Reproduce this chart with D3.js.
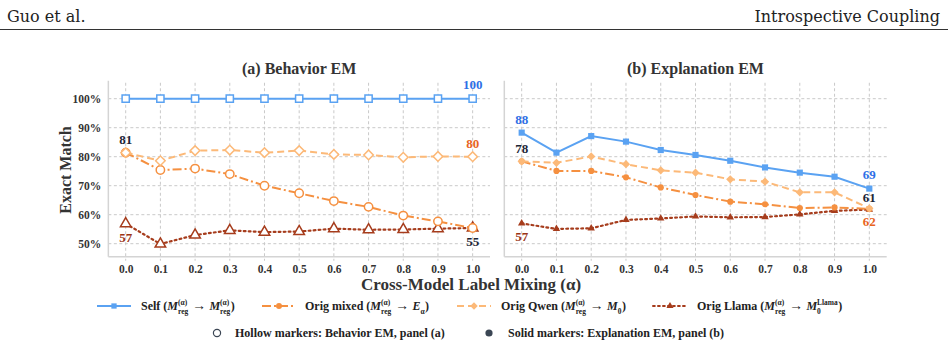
<!DOCTYPE html>
<html>
<head>
<meta charset="utf-8">
<script src="https://cdn.jsdelivr.net/npm/d3@7"></script>
<style>
    body { margin: 0; background: #fff; }
    svg text { font-family: "Liberation Serif", "DejaVu Serif", serif; white-space: pre; }
</style>
</head>
<body>
<svg id="chart" width="948" height="346"></svg>
<script>

// alpha on x axis
var alphas = [ 0, 0.1, 0.2, 0.3, 0.4, 0.5, 0.6, 0.7, 0.8, 0.9, 1.0 ];
var yTicks = [ 50, 60, 70, 80, 90, 100 ];

// (a) Behavior EM
var behaviorSelf  = [ 100, 100, 100, 100, 100, 100, 100, 100, 100, 100, 100 ];
var behaviorMixed = [ 81.4, 75.4, 75.9, 74.0, 70.0, 67.4, 64.7, 62.7, 59.7, 57.7, 55.4 ];
var behaviorQwen  = [ 81.4, 78.6, 82.1, 82.3, 81.4, 82.1, 80.8, 80.6, 79.8, 80.1, 80.0 ];
var behaviorLlama = [ 56.9, 49.9, 53.0, 54.6, 54.0, 54.2, 55.2, 54.8, 54.9, 55.2, 55.4 ];

// (b) Explanation EM
var explSelf  = [ 88.3, 81.4, 87.1, 85.2, 82.3, 80.6, 78.6, 76.3, 74.5, 73.1, 69.0 ];
var explMixed = [ 78.4, 75.1, 75.1, 72.9, 69.4, 66.8, 64.5, 63.6, 62.3, 62.5, 62.0 ];
var explQwen  = [ 78.4, 77.9, 80.1, 77.4, 75.3, 74.5, 72.2, 71.4, 67.7, 67.7, 62.2 ];
var explLlama = [ 57.0, 55.1, 55.3, 58.2, 58.7, 59.4, 59.1, 59.2, 60.1, 61.3, 61.8 ];

var panelTitles = [ '(a) Behavior EM', '(b) Explanation EM' ];

// value labels: series, point index, text
var behaviorLabels = [
    { series: 'self',  i: 10, text: '100' },
    { series: 'qwen',  i: 0,  text: '81' },
    { series: 'qwen',  i: 10, text: '80' },
    { series: 'mixed', i: 10, text: '55' },
    { series: 'llama', i: 0,  text: '57' }
];
var explLabels = [
    { series: 'self',  i: 0,  text: '88' },
    { series: 'self',  i: 10, text: '69' },
    { series: 'qwen',  i: 0,  text: '78' },
    { series: 'llama', i: 0,  text: '57' },
    { series: 'llama', i: 10, text: '61' },
    { series: 'mixed', i: 10, text: '62' }
];

var styles = {
    self:  { color: '#5aa2f2', dash: null,         symbol: d3.symbolSquare,   rot: 0 },
    mixed: { color: '#f59040', dash: '9,3,2,3',    symbol: d3.symbolCircle,   rot: 0 },
    qwen:  { color: '#fcb978', dash: '7,4',        symbol: d3.symbolSquare,   rot: 45 },
    llama: { color: '#a63c1c', dash: '1.8,3.2',    symbol: d3.symbolTriangle, rot: 0 }
};

var labelStyle = {
    'behavior-self-10':  { dy: -10, color: '#2e6fe6' },
    'behavior-qwen-0':   { dy: -9,  color: '#1c2536' },
    'behavior-qwen-10':  { dy: -9,  color: '#e8641e' },
    'behavior-mixed-10': { dy: 18,  color: '#1c2536' },
    'behavior-llama-0':  { dy: 18,  color: '#9a3416' },
    'expl-self-0':       { dy: -9,  color: '#2e6fe6' },
    'expl-self-10':      { dy: -10, color: '#2e6fe6' },
    'expl-qwen-0':       { dy: -8,  color: '#1c2536' },
    'expl-llama-0':      { dy: 18,  color: '#9a3416' },
    'expl-llama-10':     { dy: -7,  color: '#1c2536' },
    'expl-mixed-10':     { dy: 17,  color: '#e8641e' }
};

var svg = d3.select('#chart');

// page header
svg.append('text')
    .attr('x', 7).attr('y', 22)
    .style('font-family', '"DejaVu Serif", serif')
    .style('font-size', '16px')
    .style('fill', '#222')
    .text('Guo et al.');

svg.append('text')
    .attr('x', 940).attr('y', 22)
    .attr('text-anchor', 'end')
    .style('font-family', '"DejaVu Serif", serif')
    .style('font-size', '16px')
    .style('fill', '#222')
    .text('Introspective Coupling');

svg.append('line')
    .attr('x1', 0).attr('x2', 948)
    .attr('y1', 29.5).attr('y2', 29.5)
    .style('stroke', '#333')
    .style('stroke-width', 1);

var plotTop = 82.75, plotBottom = 256.75;

var y = d3.scaleLinear()
    .domain([ 45.5, 105.5 ])
    .range([ plotBottom, plotTop ]);

var panels = [
    { key: 'behavior', left: 108.35, right: 490, hollow: true,
      data: { self: behaviorSelf, mixed: behaviorMixed, qwen: behaviorQwen, llama: behaviorLlama },
      labels: behaviorLabels },
    { key: 'expl', left: 504.3, right: 886.7, hollow: false,
      data: { self: explSelf, mixed: explMixed, qwen: explQwen, llama: explLlama },
      labels: explLabels }
];

var order = [ 'llama', 'mixed', 'qwen', 'self' ];

panels.forEach( function ( p, pi ) {

    var x = d3.scaleLinear()
        .domain([ -0.05, 1.05 ])
        .range([ p.left, p.right ]);

    var g = svg.append('g');

    // grid
    g.selectAll('.vgrid')
        .data( alphas )
        .enter().append('line')
        .attr('x1', function ( d ) { return x( d ) })
        .attr('x2', function ( d ) { return x( d ) })
        .attr('y1', plotTop)
        .attr('y2', plotBottom + 4)
        .style('stroke', '#c9c9c9')
        .style('stroke-width', 1)
        .style('stroke-dasharray', '3,2.5');

    g.selectAll('.hgrid')
        .data( yTicks )
        .enter().append('line')
        .attr('x1', p.left)
        .attr('x2', p.right)
        .attr('y1', function ( d ) { return y( d ) })
        .attr('y2', function ( d ) { return y( d ) })
        .style('stroke', '#c9c9c9')
        .style('stroke-width', 1)
        .style('stroke-dasharray', '3,2.5');

    // spines
    g.append('line')
        .attr('x1', p.left).attr('x2', p.left)
        .attr('y1', plotTop - 2).attr('y2', plotBottom)
        .style('stroke', '#d4d4d4')
        .style('stroke-width', 1.5);

    g.append('line')
        .attr('x1', p.left).attr('x2', p.right)
        .attr('y1', plotBottom).attr('y2', plotBottom)
        .style('stroke', '#d4d4d4')
        .style('stroke-width', 1.5);

    // tick labels
    var xAxis = d3.axisBottom( x )
        .tickValues( alphas )
        .tickSize( 0 )
        .tickPadding( 8 )
        .tickFormat( d3.format('.1f') );

    var xa = g.append('g')
        .attr('transform', 'translate(0,' + plotBottom + ')')
        .call( xAxis );
    xa.select('.domain').remove();
    xa.selectAll('text')
        .style('font-family', '"Liberation Serif", serif')
        .style('font-weight', 'bold')
        .style('font-size', '11.5px')
        .style('fill', '#333');

    if ( pi === 0 ) {

        var yAxis = d3.axisLeft( y )
            .tickValues( yTicks )
            .tickSize( 0 )
            .tickPadding( 7 )
            .tickFormat( function ( d ) { return d + '%' });

        var ya = g.append('g')
            .attr('transform', 'translate(' + p.left + ',0)')
            .call( yAxis );
        ya.select('.domain').remove();
        ya.selectAll('text')
            .style('font-family', '"Liberation Serif", serif')
            .style('font-weight', 'bold')
            .style('font-size', '11.5px')
            .style('fill', '#333');

    }

    // title
    g.append('text')
        .attr('x', ( p.left + p.right ) / 2)
        .attr('y', 74)
        .attr('text-anchor', 'middle')
        .style('font-weight', 'bold')
        .style('font-size', '16px')
        .style('fill', '#333')
        .text( panelTitles[ pi ] );

    // series
    order.forEach( function ( key ) {

        var st = styles[ key ];
        var vals = p.data[ key ];

        var line = d3.line()
            .x( function ( d, i ) { return x( alphas[ i ] ) })
            .y( function ( d ) { return y( d ) });

        g.append('path')
            .datum( vals )
            .attr('d', line)
            .style('fill', 'none')
            .style('stroke', st.color)
            .style('stroke-width', key === 'llama' ? 2.2 : 2)
            .style('stroke-dasharray', st.dash)
            .style('stroke-linecap', key === 'llama' ? 'round' : 'butt');

        var size;
        if ( p.hollow ) {
            size = { self: 52, mixed: 55, qwen: 46, llama: 48 }[ key ];
        } else {
            size = { self: 38, mixed: 30, qwen: 34, llama: 24 }[ key ];
        }

        var sym = d3.symbol().type( st.symbol ).size( size );

        g.selectAll('.m-' + key)
            .data( vals )
            .enter().append('path')
            .attr('d', sym)
            .attr('transform', function ( d, i ) {
                return 'translate(' + x( alphas[ i ] ) + ',' + y( d ) + ') rotate(' + st.rot + ')';
            })
            .style('fill', p.hollow ? '#fff' : st.color)
            .style('stroke', st.color)
            .style('stroke-width', p.hollow ? 1.5 : 0);

    });

    // value labels
    p.labels.forEach( function ( l ) {

        var ls = labelStyle[ p.key + '-' + l.series + '-' + l.i ];

        g.append('text')
            .attr('x', x( alphas[ l.i ] ))
            .attr('y', y( p.data[ l.series ][ l.i ] ) + ls.dy)
            .attr('text-anchor', 'middle')
            .style('font-weight', 'bold')
            .style('font-size', '13px')
            .style('fill', ls.color)
            .text( l.text );

    });

});

// axis titles
svg.append('text')
    .attr('transform', 'translate(71,170) rotate(-90)')
    .attr('text-anchor', 'middle')
    .style('font-weight', 'bold')
    .style('font-size', '16px')
    .style('fill', '#333')
    .text('Exact Match');

svg.append('text')
    .attr('x', 471)
    .attr('y', 290)
    .attr('text-anchor', 'middle')
    .style('font-weight', 'bold')
    .style('font-size', '17px')
    .style('fill', '#333')
    .text('Cross-Model Label Mixing (α)');

// legend

function richText ( g, x, y, parts, size ) {

    var cx = x;

    parts.forEach( function ( part ) {

        if ( part.sup || part.sub ) {

            var w = 0;

            if ( part.sup ) {
                var s = g.append('text')
                    .attr('x', cx).attr('y', y - size * 0.42)
                    .style('font-size', ( size * 0.62 ) + 'px')
                    .style('font-weight', 'bold')
                    .style('fill', '#222')
                    .text( part.sup );
                w = Math.max( w, s.node().getComputedTextLength() );
            }

            if ( part.sub ) {
                var b = g.append('text')
                    .attr('x', cx).attr('y', y + size * 0.32)
                    .style('font-size', ( size * 0.62 ) + 'px')
                    .style('font-weight', 'bold')
                    .style('fill', '#222')
                    .text( part.sub );
                w = Math.max( w, b.node().getComputedTextLength() );
            }

            cx += w + 0.5;

        } else {

            var t = g.append('text')
                .attr('x', cx).attr('y', y)
                .style('font-size', ( part.big ? size * 1.15 : size ) + 'px')
                .style('font-weight', part.big ? 'normal' : 'bold')
                .style('font-style', part.it ? 'italic' : 'normal')
                .style('fill', '#222')
                .text( part.t );
            cx += t.node().getComputedTextLength();

        }

    });

}

var Mreg = [ { t: 'M', it: true }, { sup: '(α)', sub: 'reg' } ];
var arrow = [ { t: ' → ', big: true } ];

var legendItems = [
    { key: 'self',  x: 97,  tx: 141,
      parts: [ { t: 'Self (' } ].concat( Mreg, arrow, Mreg, [ { t: ')' } ] ) },
    { key: 'mixed', x: 262, tx: 305,
      parts: [ { t: 'Orig mixed (' } ].concat( Mreg, arrow, [ { t: 'E', it: true }, { sub: 'α' }, { t: ')' } ] ) },
    { key: 'qwen',  x: 457, tx: 501,
      parts: [ { t: 'Orig Qwen (' } ].concat( Mreg, arrow, [ { t: 'M', it: true }, { sub: '0' }, { t: ')' } ] ) },
    { key: 'llama', x: 653, tx: 697,
      parts: [ { t: 'Orig Llama (' } ].concat( Mreg, arrow, [ { t: 'M', it: true }, { sup: 'Llama', sub: '0' }, { t: ')' } ] ) }
];

var lg = svg.append('g');
var ly = 306;

legendItems.forEach( function ( item ) {

    var st = styles[ item.key ];

    lg.append('line')
        .attr('x1', item.x).attr('x2', item.x + 34)
        .attr('y1', ly).attr('y2', ly)
        .style('stroke', st.color)
        .style('stroke-width', 2)
        .style('stroke-dasharray', st.dash)
        .style('stroke-linecap', item.key === 'llama' ? 'round' : 'butt');

    lg.append('path')
        .attr('d', d3.symbol().type( st.symbol ).size( item.key === 'llama' ? 22 : 28 ))
        .attr('transform', 'translate(' + ( item.x + 17 ) + ',' + ly + ') rotate(' + st.rot + ')')
        .style('fill', st.color);

    richText( lg, item.tx, ly + 4, item.parts, 12 );

});

var l2y = 333;

lg.append('circle')
    .attr('cx', 217).attr('cy', l2y)
    .attr('r', 3.6)
    .style('fill', '#fff')
    .style('stroke', '#3b4654')
    .style('stroke-width', 1.2);

lg.append('text')
    .attr('x', 235).attr('y', l2y + 4)
    .style('font-size', '12px')
    .style('font-weight', 'bold')
    .style('fill', '#222')
    .text('Hollow markers: Behavior EM, panel (a)');

lg.append('circle')
    .attr('cx', 489).attr('cy', l2y)
    .attr('r', 3.6)
    .style('fill', '#3b4654');

lg.append('text')
    .attr('x', 508).attr('y', l2y + 4)
    .style('font-size', '12px')
    .style('font-weight', 'bold')
    .style('fill', '#222')
    .text('Solid markers: Explanation EM, panel (b)');

</script>
</body>
</html>
